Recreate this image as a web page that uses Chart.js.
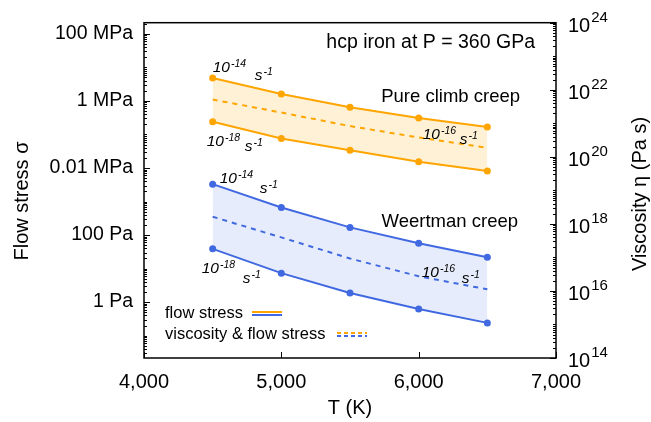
<!DOCTYPE html>
<html lang="en">
<head>
<meta charset="UTF-8">
<title>hcp iron creep at 360 GPa</title>
<script src="https://cdn.jsdelivr.net/npm/chart.js@4.4.1/dist/chart.umd.min.js"></script>
<style>
  body { margin: 0; background: #fff; }
  #wrap { width: 651px; height: 422px; }
</style>
</head>
<body>
<div id="wrap"><canvas id="creepChart"></canvas></div>
<script>
// temperatures (K)
const temps = [4500, 5000, 5500, 6000, 6500];

// flow stress (Pa), pure climb creep
const climbFast = [4.8e6, 1.6e6, 6.5e5, 3.1e5, 1.66e5];   // 10^-14 s^-1
const climbSlow = [2.4e5, 7.6e4, 3.36e4, 1.54e4, 8.1e3];  // 10^-18 s^-1
const climbMid  = [1.1e6, 4.5e5, 1.78e5, 8.1e4, 4.0e4];   // 10^-16 s^-1

// flow stress (Pa), Weertman creep
const weertFast = [3290, 665, 169, 57, 21.8];
const weertSlow = [38.7, 7.3, 1.87, 0.625, 0.24];
const weertMid  = [352, 85, 20, 5.9, 2.4];

// axis ticks
const xTicks = [4000, 5000, 6000, 7000];
const stressTicks = [1e8, 1e6, 1e4, 1e2, 1];
const stressLabels = ['100 MPa', '1 MPa', '0.01 MPa', '100 Pa', '1 Pa'];
const viscTicks = [1e24, 1e22, 1e20, 1e18, 1e16, 1e14];
const viscExps = ['24', '22', '20', '18', '16', '14'];

const FONT = "'Liberation Sans', Arial, sans-serif";
const ORANGE = '#ffa500';
const BLUE = '#4169e1';

const pts = arr => temps.map((t, i) => ({ x: t, y: arr[i] }));

function supText(ctx, x, y, base, exp, size, expSize, raise, italic) {
    const st = italic ? 'italic ' : '';
    ctx.font = st + size + 'px ' + FONT;
    ctx.fillText(base, x, y);
    const w = ctx.measureText(base).width;
    ctx.font = st + expSize + 'px ' + FONT;
    ctx.fillText(exp, x + w + 1, y - raise);
}

// frame, inward ticks, right axis labels, titles, annotations, legend
const decorPlugin = {
    id: 'decor',
    afterDraw(chart) {
        const { ctx, chartArea: a, scales } = chart;
        const xs = scales.x, ys = scales.y, yv = scales.y2;
        ctx.save();
        ctx.strokeStyle = '#000';
        ctx.lineWidth = 1.5;
        ctx.strokeRect(a.left, a.top, a.right - a.left, a.bottom - a.top);

        ctx.lineWidth = 1;
        ctx.beginPath();
        // bottom ticks
        xTicks.forEach(v => {
            const px = Math.round(xs.getPixelForValue(v)) + 0.5;
            ctx.moveTo(px, a.bottom); ctx.lineTo(px, a.bottom - 6);
        });
        // left log ticks
        for (let e = -2; e <= 8; e++) {
            for (let k = 1; k <= 9; k++) {
                const py = ys.getPixelForValue(k * Math.pow(10, e));
                if (py < a.top || py > a.bottom) continue;
                const major = k === 1 && e % 2 === 0;
                ctx.moveTo(a.left, Math.round(py) + 0.5);
                ctx.lineTo(a.left + (major ? 6 : 3), Math.round(py) + 0.5);
            }
        }
        // right log ticks
        for (let e = 14; e <= 24; e++) {
            for (let k = 1; k <= 9; k++) {
                const py = yv.getPixelForValue(k * Math.pow(10, e));
                if (py < a.top - 0.5 || py > a.bottom + 0.5) continue;
                const major = k === 1 && e % 2 === 0;
                ctx.moveTo(a.right, Math.round(py) + 0.5);
                ctx.lineTo(a.right - (major ? 6 : 3), Math.round(py) + 0.5);
            }
        }
        ctx.stroke();

        // right axis labels 10^n
        ctx.fillStyle = '#000';
        ctx.textBaseline = 'alphabetic';
        ctx.textAlign = 'left';
        viscTicks.forEach((v, i) => {
            const py = yv.getPixelForValue(v);
            supText(ctx, a.right + 12, py + 9, '10', viscExps[i], 20, 15, 10, false);
        });

        // rotated axis titles
        [['Flow stress \u03c3', 22, 201], ['Viscosity \u03b7 (Pa s)', 640, 194]].forEach(([t, x, y]) => {
            ctx.save();
            ctx.translate(x, y);
            ctx.rotate(-Math.PI / 2);
            ctx.textAlign = 'center';
            ctx.textBaseline = 'middle';
            ctx.font = '20px ' + FONT;
            ctx.fillText(t, 0, 0);
            ctx.restore();
        });

        // plain annotations
        ctx.textAlign = 'right';
        ctx.font = '19.5px ' + FONT;
        ctx.fillText('hcp iron at P = 360 GPa', 535, 48);
        ctx.font = '18.5px ' + FONT;
        ctx.fillText('Pure climb creep', 520, 102);
        ctx.fillText('Weertman creep', 518, 227);

        // strain-rate labels anchored to points
        ctx.textAlign = 'left';
        const rateLabels = [
            [climbFast, 0, '-14', 0, -6, 42, 2],
            [climbSlow, 0, '-18', -6, 24, 32, 29],
            [climbMid, 3, '-16', 4, 1, 41, 6],
            [weertFast, 0, '-14', 7, -1, 47, 9],
            [weertSlow, 0, '-18', -11, 24, 30, 34],
            [weertMid, 3, '-16', 3, 1, 43, 7]
        ];
        rateLabels.forEach(([arr, i, exp, dx, dy, sx, sy]) => {
            const px = xs.getPixelForValue(temps[i]);
            const py = ys.getPixelForValue(arr[i]);
            supText(ctx, px + dx, py + dy, '10', exp, 15.5, 10.5, 5, true);
            supText(ctx, px + sx, py + sy, 's', '-1', 15.5, 10.5, 5, true);
        });

        // legend
        ctx.font = '16.5px ' + FONT;
        ctx.fillText('flow stress', 165, 318);
        ctx.fillText('viscosity & flow stress', 165, 339);
        ctx.lineWidth = 2;
        [[ORANGE, 312, []], [BLUE, 315, []], [ORANGE, 333, [4, 3]], [BLUE, 336, [4, 3]]].forEach(([c, y, d], j) => {
            const x0 = j < 2 ? 252 : 337;
            ctx.strokeStyle = c;
            ctx.setLineDash(d);
            ctx.beginPath();
            ctx.moveTo(x0, y); ctx.lineTo(x0 + 30, y);
            ctx.stroke();
        });
        ctx.restore();
    }
};

const solid = (arr, color, fillColor) => ({
    data: pts(arr),
    borderColor: color,
    borderWidth: 2,
    pointRadius: 3.5,
    pointBackgroundColor: color,
    pointBorderColor: color,
    pointBorderWidth: 0,
    backgroundColor: fillColor || 'transparent',
    fill: fillColor ? '+1' : false
});
const dashed = (arr, color) => ({
    data: pts(arr),
    borderColor: color,
    borderWidth: 2,
    borderDash: [5, 5],
    pointRadius: 0,
    fill: false
});

new Chart(document.getElementById('creepChart'), {
    type: 'line',
    data: {
        datasets: [
            solid(climbFast, ORANGE, 'rgba(255, 165, 0, 0.16)'),
            solid(climbSlow, ORANGE),
            dashed(climbMid, ORANGE),
            solid(weertFast, BLUE, 'rgba(65, 105, 225, 0.13)'),
            solid(weertSlow, BLUE),
            dashed(weertMid, BLUE)
        ]
    },
    options: {
        responsive: true,
        maintainAspectRatio: false,
        animation: false,
        layout: { padding: { top: 21, left: 0, right: 0, bottom: 0 } },
        plugins: {
            legend: { display: false },
            tooltip: { enabled: false }
        },
        scales: {
            x: {
                type: 'linear',
                min: 4000,
                max: 7000,
                afterFit: s => { s.height = 64; },
                afterBuildTicks: s => { s.ticks = xTicks.map(v => ({ value: v })); },
                grid: { display: false, drawTicks: false },
                border: { display: false },
                ticks: {
                    padding: 12,
                    color: '#000',
                    font: { family: FONT, size: 20 },
                    callback: v => v.toLocaleString('en-US')
                },
                title: {
                    display: true,
                    text: 'T (K)',
                    color: '#000',
                    font: { family: FONT, size: 20 },
                    padding: { top: 0, bottom: 2 }
                }
            },
            y: {
                type: 'logarithmic',
                position: 'left',
                min: Math.pow(10, -1.667),
                max: Math.pow(10, 8.333),
                afterFit: s => { s.width = 144; },
                afterBuildTicks: s => { s.ticks = stressTicks.map(v => ({ value: v })); },
                grid: { display: false, drawTicks: false },
                border: { display: false },
                ticks: {
                    padding: 11,
                    color: '#000',
                    font: { family: FONT, size: 19.5 },
                    callback: (v, i) => stressLabels[i]
                }
            },
            y2: {
                type: 'logarithmic',
                position: 'right',
                min: 1e14,
                max: 1e24,
                afterFit: s => { s.width = 95; },
                grid: { display: false, drawTicks: false },
                border: { display: false },
                ticks: { display: false }
            }
        }
    },
    plugins: [decorPlugin]
});
</script>
</body>
</html>
